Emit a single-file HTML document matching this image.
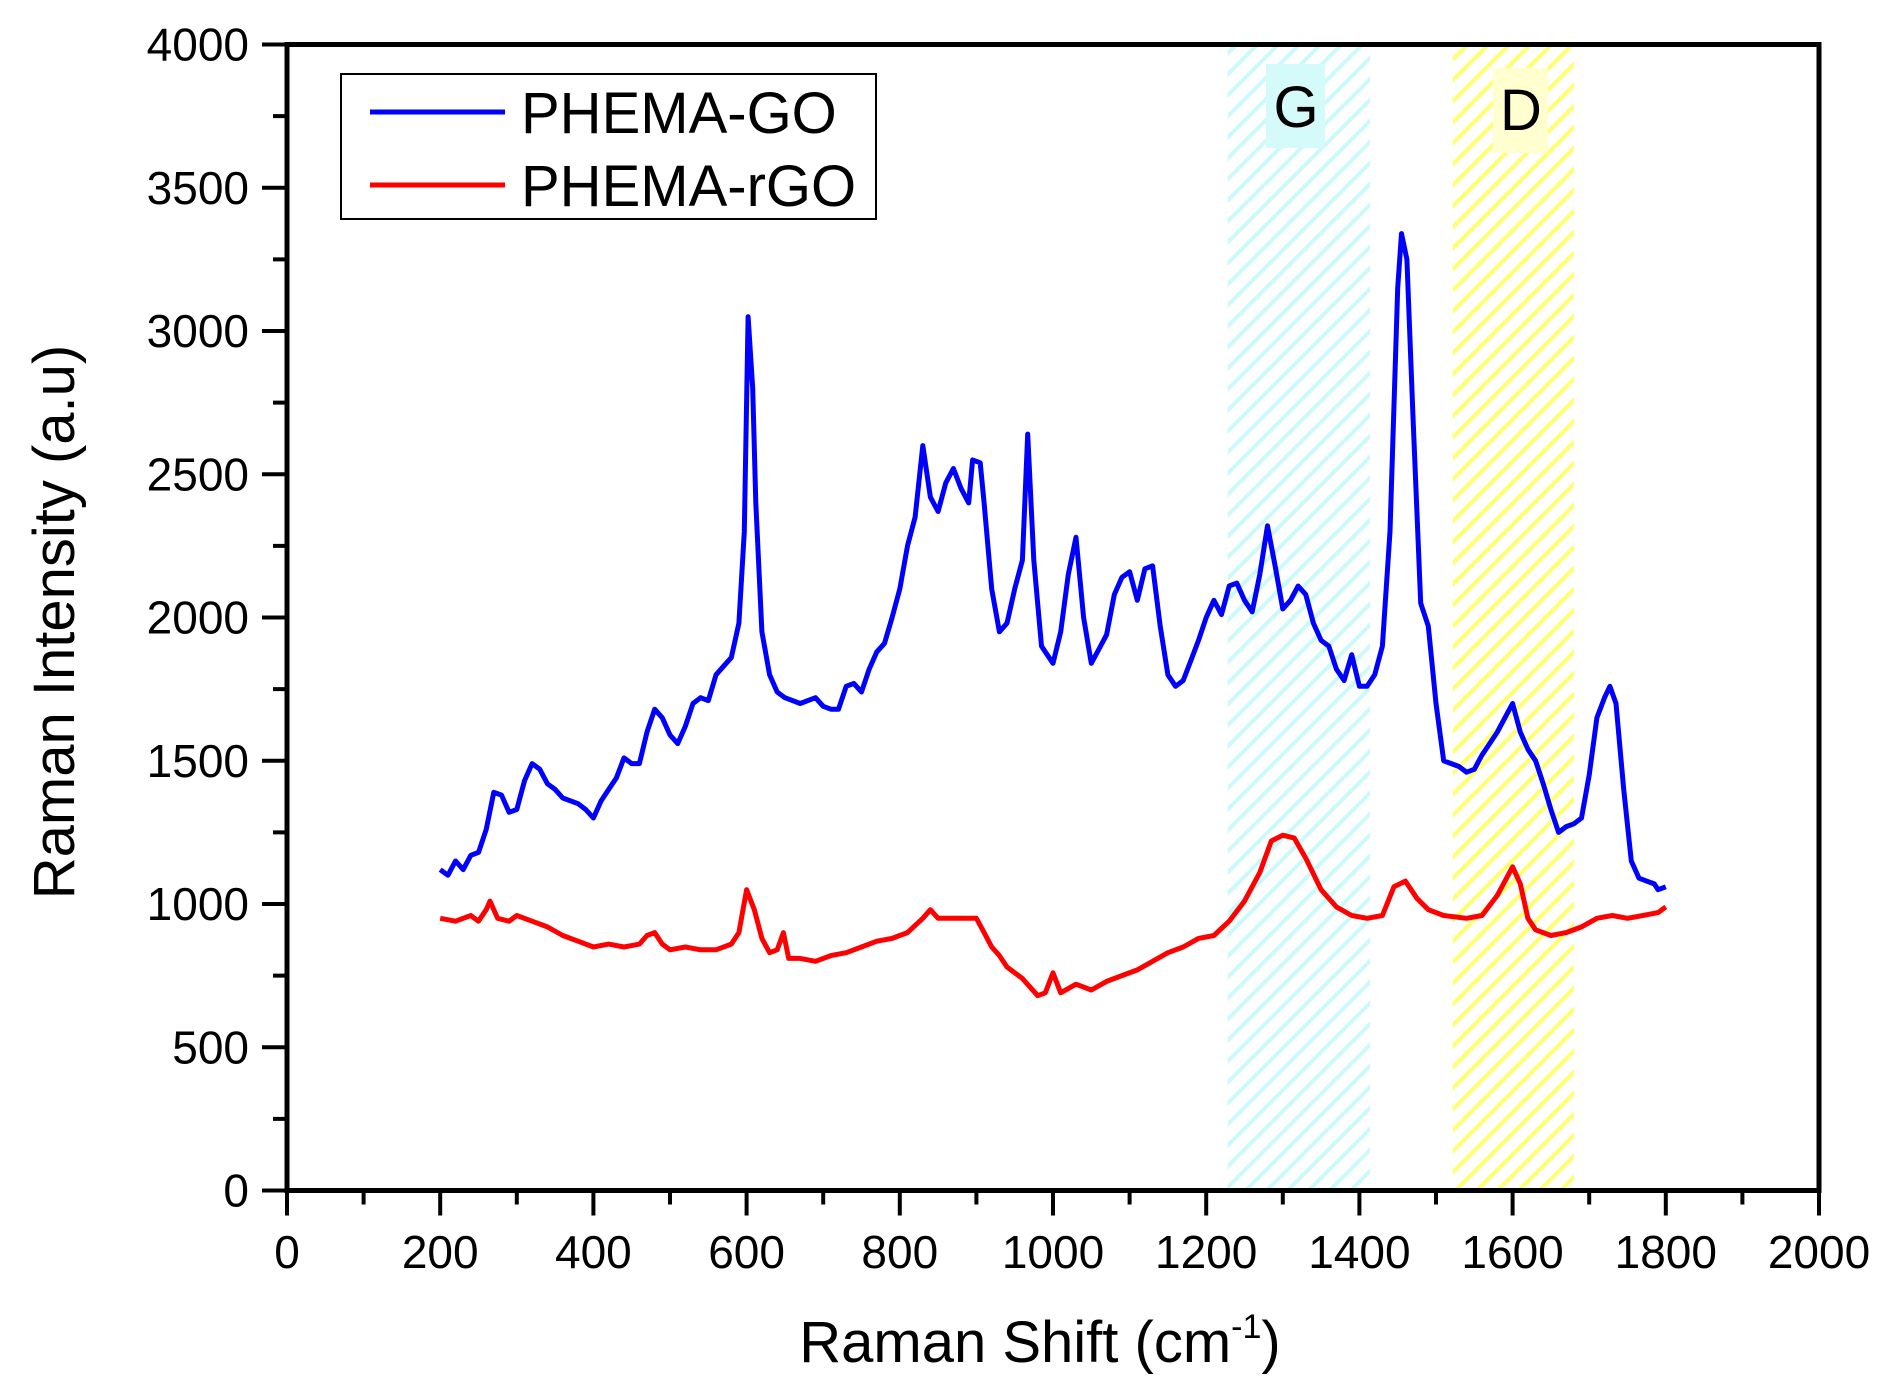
<!DOCTYPE html>
<html><head><meta charset="utf-8"><style>
body{margin:0;background:#fff}
svg{display:block;font-family:"Liberation Sans",Arial,sans-serif}
</style></head><body>
<svg id="chart" width="1888" height="1394" viewBox="0 0 1888 1394" xmlns="http://www.w3.org/2000/svg">
<defs>
<pattern id="hatchG" patternUnits="userSpaceOnUse" width="21" height="21">
<path d="M-5,26 L26,-5 M-5,5 L5,-5 M16,26 L26,16" stroke="#ccf9f9" stroke-width="4"/>
</pattern>
<pattern id="hatchD" patternUnits="userSpaceOnUse" width="21" height="21">
<path d="M-5,26 L26,-5 M-5,5 L5,-5 M16,26 L26,16" stroke="#ffff70" stroke-width="4"/>
</pattern>
</defs>
<g id="bands"></g>
<g id="series"></g>
<g id="axes"></g>
</svg>
<script>
const xTicks=[0,200,400,600,800,1000,1200,1400,1600,1800,2000];
const yTicks=[0,500,1000,1500,2000,2500,3000,3500,4000];
const bandG=[1228,1414];
const bandD=[1522,1680];
const goX=[200,210,220,230,240,250,260,270,280,290,300,310,320,330,340,350,360,380,390,400,410,420,430,440,450,460,470,480,490,500,510,520,530,540,550,560,570,580,590,597,602,608,612,620,630,640,650,670,690,700,710,720,730,740,750,760,770,780,790,800,810,820,830,840,850,860,870,880,890,895,905,910,920,930,940,950,960,967,975,985,990,1000,1010,1020,1030,1040,1050,1060,1070,1080,1090,1100,1110,1120,1130,1140,1150,1160,1170,1180,1190,1200,1210,1220,1230,1240,1250,1260,1270,1280,1290,1300,1310,1320,1330,1340,1350,1360,1370,1380,1390,1400,1410,1420,1430,1440,1450,1455,1462,1470,1480,1490,1500,1510,1520,1530,1540,1550,1560,1570,1580,1590,1600,1610,1620,1630,1640,1650,1660,1670,1680,1690,1700,1710,1720,1727,1735,1745,1755,1765,1775,1785,1790,1800];
const goY=[1120,1100,1150,1120,1170,1180,1260,1390,1380,1320,1330,1430,1490,1470,1420,1400,1370,1350,1330,1300,1360,1400,1440,1510,1490,1490,1600,1680,1650,1590,1560,1620,1700,1720,1710,1800,1830,1860,1980,2300,3050,2800,2400,1950,1800,1740,1720,1700,1720,1690,1680,1680,1760,1770,1740,1820,1880,1910,2000,2100,2250,2350,2600,2420,2370,2470,2520,2450,2400,2550,2540,2400,2100,1950,1980,2100,2200,2640,2200,1900,1880,1840,1950,2150,2280,2000,1840,1890,1940,2080,2140,2160,2060,2170,2180,1970,1800,1760,1780,1850,1920,2000,2060,2010,2110,2120,2060,2020,2150,2320,2180,2030,2060,2110,2080,1980,1920,1900,1820,1780,1870,1760,1760,1800,1900,2300,3150,3340,3250,2700,2050,1970,1700,1500,1490,1480,1460,1470,1520,1560,1600,1650,1700,1600,1540,1500,1420,1330,1250,1270,1280,1300,1450,1650,1720,1760,1700,1400,1150,1090,1080,1070,1050,1060];
const rgoX=[200,220,240,250,260,265,275,290,300,320,340,360,380,400,420,440,460,470,480,490,500,520,540,560,580,590,600,610,620,630,640,648,655,670,690,710,730,750,770,790,810,830,840,850,860,880,900,910,920,930,940,960,980,990,1000,1010,1030,1050,1070,1090,1110,1130,1150,1170,1190,1210,1230,1250,1270,1285,1300,1315,1330,1350,1370,1390,1410,1430,1445,1460,1475,1490,1510,1540,1560,1580,1600,1610,1620,1630,1650,1670,1690,1710,1730,1750,1770,1790,1800];
const rgoY=[950,940,960,940,980,1010,950,940,960,940,920,890,870,850,860,850,860,890,900,860,840,850,840,840,860,900,1050,980,880,830,840,900,810,810,800,820,830,850,870,880,900,950,980,950,950,950,950,900,850,820,780,740,680,690,760,690,720,700,730,750,770,800,830,850,880,890,940,1010,1110,1220,1240,1230,1160,1050,990,960,950,960,1060,1080,1020,980,960,950,960,1030,1130,1070,950,910,890,900,920,950,960,950,960,970,990];

const NS='http://www.w3.org/2000/svg';
const X0=287,X1=1819,Y0=1190.5,Y1=44.5;
function sx(v){return X0+(v-0)/(2000-0)*(X1-X0);}
function sy(v){return Y0-(v-0)/(4000-0)*(Y0-Y1);}
function mk(tag,attrs,parent){const e=document.createElementNS(NS,tag);for(const k in attrs)e.setAttribute(k,attrs[k]);parent.appendChild(e);return e;}
const bands=document.getElementById('bands'),series=document.getElementById('series'),axes=document.getElementById('axes');

let b=mk('rect',{x:sx(bandG[0]),y:sy(4000),width:sx(bandG[1])-sx(bandG[0]),height:sy(0)-sy(4000),fill:'url(#hatchG)'},bands);


b=mk('rect',{x:sx(bandD[0]),y:sy(4000),width:sx(bandD[1])-sx(bandD[0]),height:sy(0)-sy(4000),fill:'url(#hatchD)'},bands);


b=mk('rect',{x:1266,y:64,width:59,height:84,fill:'#d4fafa'},bands);


b=mk('rect',{x:1493,y:68,width:55,height:85,fill:'#ffffd0'},bands);


let t=mk('text',{x:1296,y:127,'font-size':58,'text-anchor':'middle',fill:'#000'},bands);t.textContent='G';


t=mk('text',{x:1521,y:130,'font-size':58,'text-anchor':'middle',fill:'#000'},bands);t.textContent='D';



function line(xs,ys,color,name){
  const d=xs.map((x,i)=>(i?'L':'M')+sx(x).toFixed(1)+','+sy(ys[i]).toFixed(1)).join(' ');
  const p=mk('path',{d:d,fill:'none',stroke:color,'stroke-width':5,'stroke-linejoin':'round'},series);
  
  
}
line(rgoX,rgoY,'#ff0000','phema-rgo-line');
line(goX,goY,'#0000ff','phema-go-line');

let f=mk('rect',{x:X0,y:Y1,width:X1-X0,height:Y0-Y1,fill:'none',stroke:'#000','stroke-width':5},axes);


xTicks.forEach((v,i)=>{
  const x=sx(v);
  const l=mk('line',{x1:x,y1:Y0,x2:x,y2:Y0+25,stroke:'#000','stroke-width':4},axes);
  
  
  if(i<xTicks.length-1){
    const xm=sx(v+100);
    const m=mk('line',{x1:xm,y1:Y0,x2:xm,y2:Y0+14,stroke:'#000','stroke-width':4},axes);
    
    
  }
  const tx=mk('text',{x:x,y:1268,'font-size':46,'text-anchor':'middle'},axes);tx.textContent=v;
  
  
});
yTicks.forEach((v,i)=>{
  const y=sy(v);
  const l=mk('line',{x1:X0-25,y1:y,x2:X0,y2:y,stroke:'#000','stroke-width':4},axes);
  
  
  if(i<yTicks.length-1){
    const ym=sy(v+250);
    const m=mk('line',{x1:X0-14,y1:ym,x2:X0,y2:ym,stroke:'#000','stroke-width':4},axes);
    
    
  }
  const tx=mk('text',{x:249,y:y+16,'font-size':46,'text-anchor':'end'},axes);tx.textContent=v;
  
  
});
let xt=mk('text',{x:1040,y:1362,'font-size':58,'text-anchor':'middle'},axes);
xt.innerHTML='Raman Shift (cm<tspan dy="-24" font-size="34">-1</tspan><tspan dy="24">)</tspan>';


let yt=mk('text',{x:0,y:0,'font-size':58,'text-anchor':'middle',transform:'translate(74,622) rotate(-90)'},axes);
yt.textContent='Raman Intensity (a.u)';


let lg=mk('g',{},axes);


let lb=mk('rect',{x:341,y:74,width:535,height:145,fill:'#fff',stroke:'#000','stroke-width':2},lg);


[['#0000ff','PHEMA-GO',112],['#ff0000','PHEMA-rGO',185]].forEach(e=>{
  const l=mk('line',{x1:370,y1:e[2],x2:505,y2:e[2],stroke:e[0],'stroke-width':5},lg);
  
  
  const tx=mk('text',{x:521,y:e[2]+21,'font-size':58},lg);tx.textContent=e[1];
  
  
});
</script>
</body></html>
